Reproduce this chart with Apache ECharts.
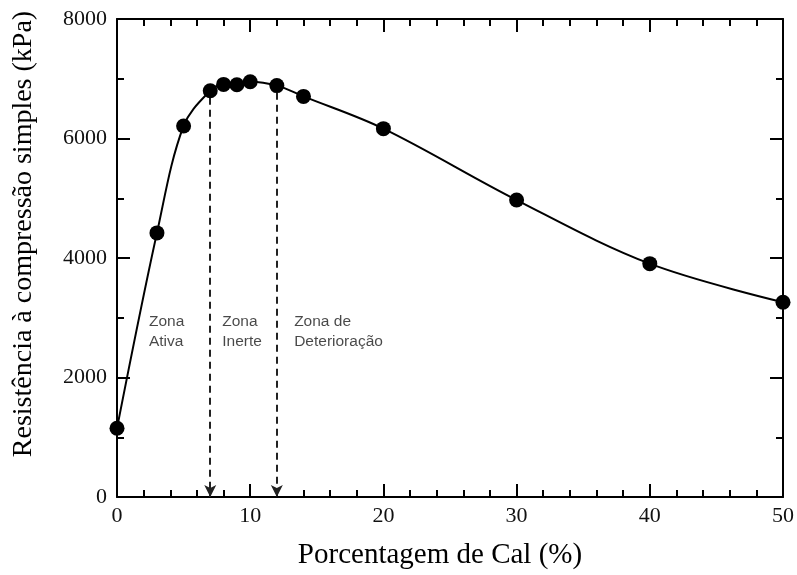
<!DOCTYPE html>
<html>
<head>
<meta charset="utf-8">
<script src="https://cdn.jsdelivr.net/npm/echarts@6/dist/echarts.min.js"></script>
<style>
  html, body { margin: 0; padding: 0; background: #fff; }
  #chart { width: 797px; height: 575px; }
</style>
</head>
<body>
<div id="chart"></div>
<script>
// Lime content (%) and unconfined compressive strength (kPa)
const limePercent = [0, 3, 5, 7, 8, 9, 10, 12, 14, 20, 30, 40, 50];
const strengthKPa = [1150, 4420, 6210, 6800, 6905, 6900, 6950, 6885, 6705, 6165, 4970, 3905, 3260];

// Zone boundaries (lime %) marked with dashed arrows down to the axis
const zoneBounds = [7, 12];
const zoneBoundTops = [6800, 6885];

// Zone captions: [x position (%), y position (kPa), text]
const zoneLabels = [
  [2.4, 2770, 'Zona\nAtiva'],
  [7.9, 2770, 'Zona\nInerte'],
  [13.3, 2770, 'Zona de\nDeterioração']
];

const xTicks = [0, 10, 20, 30, 40, 50];
const yTicks = [0, 2000, 4000, 6000, 8000];

const serif = '"Liberation Serif", "DejaVu Serif", serif';
const sans = '"Liberation Sans", Arial, sans-serif';

// Shared styling for the four sides of the plot frame
function frame(extra, minorSplits) {
  return Object.assign({
    type: 'value',
    axisLine: { show: true, onZero: false, lineStyle: { color: '#000', width: 2 } },
    axisTick: { show: true, inside: true, length: 13, lineStyle: { color: '#000', width: 2 } },
    minorTick: { show: true, splitNumber: minorSplits, length: 7, lineStyle: { color: '#000', width: 2 } },
    splitLine: { show: false }
  }, extra);
}

const chart = echarts.init(document.getElementById('chart'));
chart.setOption({
  backgroundColor: '#fff',
  animation: false,
  grid: { left: 117, right: 14, top: 19, bottom: 76 },
  xAxis: [
    frame({
      min: xTicks[0], max: xTicks[xTicks.length - 1], interval: 10,
      name: 'Porcentagem de Cal (%)', nameLocation: 'middle', nameGap: 44,
      nameTextStyle: { fontFamily: serif, fontSize: 29, color: '#000', padding: [0, 20, 0, 0] },
      axisLabel: { fontFamily: serif, fontSize: 22, color: '#111', margin: 8 }
    }, 5),
    frame({
      min: xTicks[0], max: xTicks[xTicks.length - 1], interval: 10, position: 'top',
      axisLabel: { show: false }
    }, 5)
  ],
  yAxis: [
    frame({
      min: yTicks[0], max: yTicks[yTicks.length - 1], interval: 2000,
      name: 'Resistência à compressão simples (kPa)', nameLocation: 'middle', nameGap: 79,
      nameRotate: 90,
      nameTextStyle: { fontFamily: serif, fontSize: 28, color: '#000', padding: [0, 0, 0, 48] },
      axisLabel: { fontFamily: serif, fontSize: 22, color: '#111', margin: 10, formatter: v => String(v) }
    }, 2),
    frame({
      min: yTicks[0], max: yTicks[yTicks.length - 1], interval: 2000, position: 'right',
      axisLabel: { show: false }
    }, 2)
  ],
  series: [
    {
      type: 'line',
      data: limePercent.map((x, i) => [x, strengthKPa[i]]),
      smooth: 0.35,
      symbol: 'circle',
      symbolSize: 15,
      itemStyle: { color: '#000' },
      lineStyle: { color: '#000', width: 2 },
      z: 5,
      markLine: {
        silent: true,
        symbol: ['none', 'arrow'],
        symbolSize: [9, 12],
        label: { show: false },
        lineStyle: { color: '#222', width: 2, type: [7, 5] },
        data: zoneBounds.map((x, i) => [
          { coord: [x, zoneBoundTops[i] - 120] },
          { coord: [x, 0] }
        ])
      }
    },
    {
      type: 'scatter',
      symbolSize: 0,
      silent: true,
      data: zoneLabels.map(d => [d[0], d[1], d[2]]),
      label: {
        show: true,
        position: 'right',
        distance: 0,
        formatter: p => p.data[2],
        fontFamily: sans,
        fontSize: 15.5,
        lineHeight: 20,
        color: '#1a1a1a',
        align: 'left',
        verticalAlign: 'middle'
      }
    }
  ]
});
</script>
</body>
</html>
